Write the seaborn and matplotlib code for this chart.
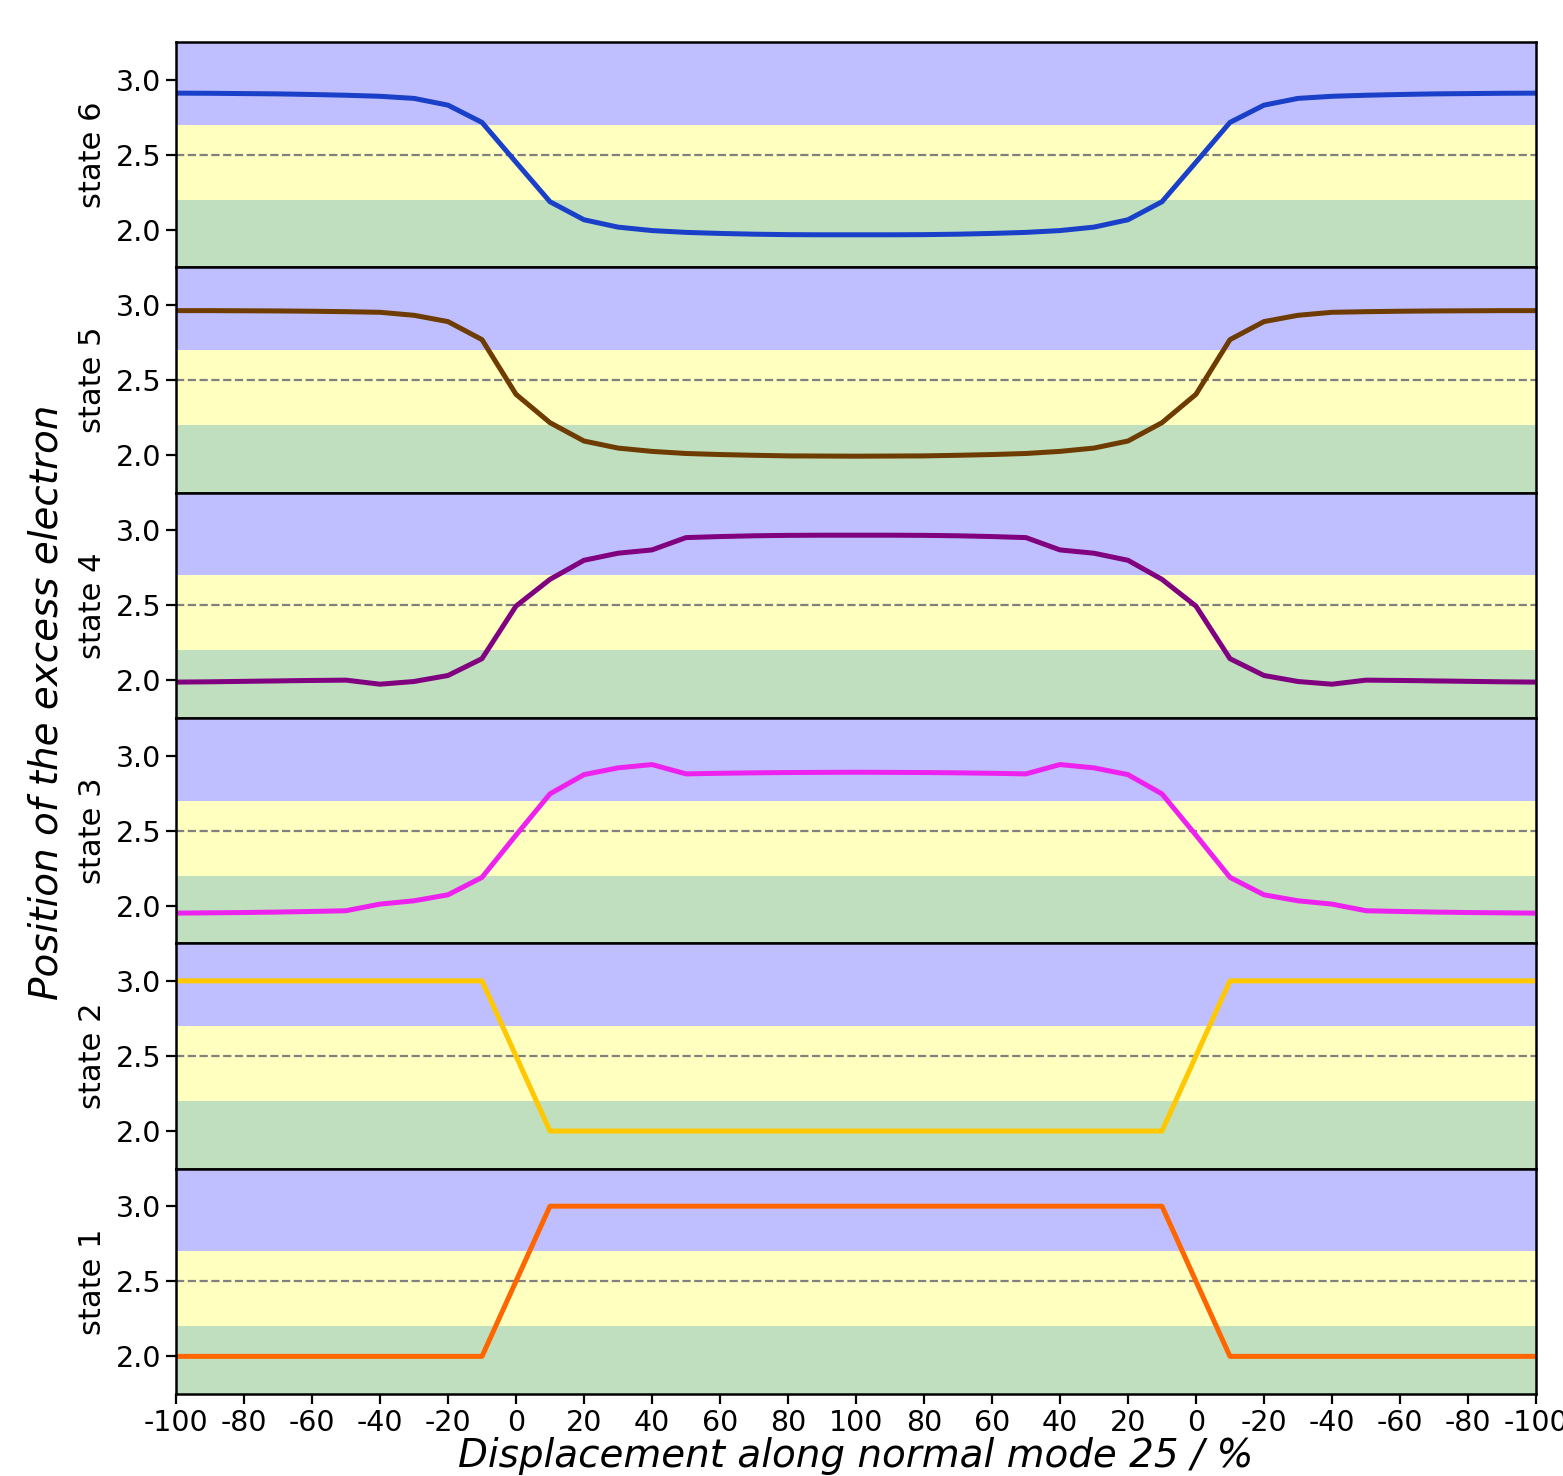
import numpy as np
import pandas as pd
import matplotlib
matplotlib.use('Agg')
import matplotlib.pyplot as plt
import seaborn as sns

# displacement along the scan: -100 -> 100 (forward half), then back to -100
disp_half = [-100, -90, -80, -70, -60, -50, -40, -30, -20, -10, 0,
             10, 20, 30, 40, 50, 60, 70, 80, 90, 100]
tick_labels = ['-100', '-80', '-60', '-40', '-20', '0', '20', '40', '60', '80', '100',
               '80', '60', '40', '20', '0', '-20', '-40', '-60', '-80', '-100']

# position of the excess electron, forward half (return half is the same path backwards)
state1 = [2.0, 2.0, 2.0, 2.0, 2.0, 2.0, 2.0, 2.0, 2.0, 2.0, 2.5,
          3.0, 3.0, 3.0, 3.0, 3.0, 3.0, 3.0, 3.0, 3.0, 3.0]
state2 = [3.0, 3.0, 3.0, 3.0, 3.0, 3.0, 3.0, 3.0, 3.0, 3.0, 2.5,
          2.0, 2.0, 2.0, 2.0, 2.0, 2.0, 2.0, 2.0, 2.0, 2.0]
state3 = [1.951, 1.953, 1.955, 1.958, 1.962, 1.967, 2.011, 2.033, 2.073, 2.189, 2.47,
          2.745, 2.873, 2.918, 2.940, 2.878, 2.882, 2.885, 2.887, 2.888, 2.889]
state4 = [1.989, 1.991, 1.994, 1.997, 2.000, 2.002, 1.975, 1.993, 2.033, 2.145, 2.495,
          2.673, 2.800, 2.847, 2.869, 2.951, 2.958, 2.963, 2.966, 2.967, 2.967]
state5 = [2.962, 2.962, 2.961, 2.960, 2.958, 2.955, 2.951, 2.931, 2.889, 2.769, 2.405,
          2.216, 2.094, 2.047, 2.025, 2.011, 2.004, 1.999, 1.995, 1.994, 1.993]
state6 = [2.910, 2.909, 2.907, 2.905, 2.901, 2.896, 2.889, 2.875, 2.830, 2.715, 2.450,
          2.187, 2.067, 2.018, 1.995, 1.983, 1.976, 1.971, 1.968, 1.967, 1.967]

states = {'state 6': (state6, '#1a3fc8'),
          'state 5': (state5, '#6e3b00'),
          'state 4': (state4, '#800080'),
          'state 3': (state3, '#ee22ee'),
          'state 2': (state2, '#ffc800'),
          'state 1': (state1, '#ff6600')}

n = 2 * len(disp_half) - 1
path_x = np.arange(n) * 10  # running coordinate along the scan

fig, axes = plt.subplots(6, 1, figsize=(15.63, 14.76), dpi=100, sharex=True)
fig.subplots_adjust(left=0.1126, right=0.9827, top=0.9715, bottom=0.0556, hspace=0)

for ax, (name, (half, col)) in zip(axes, states.items()):
    vals = half + half[-2::-1]
    df = pd.DataFrame({'x': path_x, 'y': vals})
    ax.axhspan(2.7, 3.5, color='blue', alpha=0.25, lw=0)
    ax.axhspan(2.2, 2.7, color='yellow', alpha=0.25, lw=0)
    ax.axhspan(1.5, 2.2, color='green', alpha=0.25, lw=0)
    ax.axhline(2.5, color='gray', ls='--', lw=1.6)
    sns.lineplot(data=df, x='x', y='y', ax=ax, color=col, linewidth=3.6)
    ax.set_ylim(1.75, 3.25)
    ax.set_yticks([2.0, 2.5, 3.0])
    ax.set_yticklabels(['2.0', '2.5', '3.0'])
    ax.set_ylabel(name, fontsize=22, labelpad=6)
    ax.set_xlabel('')
    ax.tick_params(axis='y', labelsize=20.5, length=7, width=1.6)
    ax.tick_params(axis='x', bottom=False)
    for s in ax.spines.values():
        s.set_linewidth(1.8)

axes[-1].set_xlim(0, path_x[-1])
axes[-1].set_xticks(path_x[::2])
axes[-1].set_xticklabels(tick_labels)
axes[-1].tick_params(axis='x', bottom=True, labelsize=20.5, length=7, width=1.6)
axes[-1].set_xlabel('Displacement along normal mode 25 / %', fontsize=28,
                    style='italic', labelpad=0)

fig.text(0.030, 0.524, 'Position of the excess electron', rotation=90,
         fontsize=28, style='italic', ha='center', va='center')

fig.savefig('out.png', dpi=100)
